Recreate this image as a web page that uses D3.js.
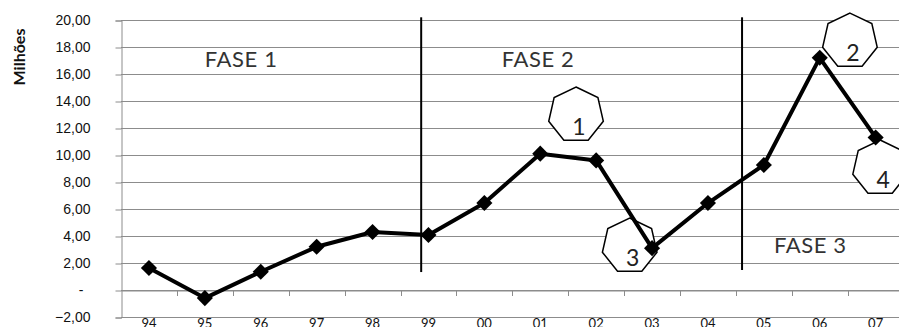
<!DOCTYPE html>
<html>
<head>
<meta charset="utf-8">
<script src="https://cdn.jsdelivr.net/npm/d3@7"></script>
<style>
  body { margin: 0; background: #fff; }
  svg { display: block; font-family: Lato, "Open Sans", sans-serif; }
</style>
</head>
<body>
<script>
// data
const years = ["94", "95", "96", "97", "98", "99", "00", "01", "02", "03", "04", "05", "06", "07"];
const values = [1.63, -0.6, 1.35, 3.2, 4.3, 4.07, 6.44, 10.1, 9.6, 3.1, 6.44, 9.26, 17.2, 11.3];
const yTicks = [-2, 0, 2, 4, 6, 8, 10, 12, 14, 16, 18, 20];

// phase boundaries (in category index units) and labels
const phaseLines = [{ at: 4.87, from: 1.33, to: 20.2 }, { at: 10.61, from: 1.48, to: 20.2 }];
const phaseLabels = [
  { text: "FASE 1", at: 1.65, v: 16.5 },
  { text: "FASE 2", at: 6.96, v: 16.5 },
  { text: "FASE 3", at: 11.83, v: 2.74 }
];
// numbered heptagon callouts
const callouts = [
  { n: "1", at: 7.64, v: 12.96 },
  { n: "2", at: 12.54, v: 18.44 },
  { n: "3", at: 8.6, v: 3.26 },
  { n: "4", at: 13.08, v: 9.04 }
];

const width = 899;
const height = 327;
const left = 121;
const band = 55.9;

const svg = d3.select("body").append("svg")
  .attr("width", width)
  .attr("height", height);

const x = d3.scaleBand()
  .domain(years)
  .range([left, left + band * years.length])
  .padding(0);

// continuous index scale for annotations
const xi = d3.scaleLinear()
  .domain([-0.5, years.length - 0.5])
  .range(x.range());

const y = d3.scaleLinear()
  .domain([-2, 20])
  .range([317, 20]);

const fmt = d => d === 0 ? "-" : d3.format(".2f")(d).replace(".", ",");

// gridlines
svg.append("g")
  .selectAll("line")
  .data(yTicks)
  .join("line")
  .attr("x1", left)
  .attr("x2", width)
  .attr("y1", d => Math.round(y(d)) + 0.5)
  .attr("y2", d => Math.round(y(d)) + 0.5)
  .attr("stroke", "#8c8c8c")
  .attr("stroke-width", 1);

// y axis
const yAxis = svg.append("g")
  .attr("transform", `translate(${left + 0.5},0.5)`)
  .call(d3.axisLeft(y).tickValues(yTicks).tickSize(6).tickPadding(25).tickFormat(fmt));
yAxis.select(".domain").attr("stroke", "#8c8c8c");
yAxis.selectAll(".tick line").attr("stroke", "#8c8c8c");
yAxis.selectAll(".tick text")
  .attr("fill", "#111")
  .style("font-size", "14px")
  .attr("dx", d => d === 0 ? "-7" : 0);

// x axis at zero
const xAxis = svg.append("g")
  .attr("transform", `translate(0,${Math.round(y(0)) + 0.5})`)
  .call(d3.axisBottom(x).tickSize(0).tickFormat(""));
xAxis.select(".domain").attr("stroke", "#8c8c8c");

// tick marks at band boundaries
svg.append("g")
  .selectAll("line")
  .data(years.slice(1))
  .join("line")
  .attr("x1", d => Math.round(x(d)) + 0.5)
  .attr("x2", d => Math.round(x(d)) + 0.5)
  .attr("y1", y(0))
  .attr("y2", y(0) + 6)
  .attr("stroke", "#8c8c8c");

// x labels (cut at the bottom edge as in the original)
svg.append("g")
  .selectAll("text")
  .data(years)
  .join("text")
  .attr("x", d => x(d) + x.bandwidth() / 2)
  .attr("y", 328)
  .attr("text-anchor", "middle")
  .attr("fill", "#111")
  .style("font-size", "13px")
  .text(d => d);

// y title
svg.append("text")
  .attr("transform", "translate(25,57) rotate(-90)")
  .attr("text-anchor", "middle")
  .attr("fill", "#111")
  .style("font-size", "16px")
  .style("font-weight", "bold")
  .text("Milhões");

// phase separators
svg.append("g")
  .selectAll("line")
  .data(phaseLines)
  .join("line")
  .attr("x1", d => xi(d.at))
  .attr("x2", d => xi(d.at))
  .attr("y1", d => y(d.to))
  .attr("y2", d => y(d.from))
  .attr("stroke", "#000")
  .attr("stroke-width", 2);

svg.append("g")
  .selectAll("text")
  .data(phaseLabels)
  .join("text")
  .attr("x", d => xi(d.at))
  .attr("y", d => y(d.v))
  .attr("text-anchor", "middle")
  .attr("fill", "#333")
  .style("font-size", "22px")
  .style("letter-spacing", "0.6px")
  .text(d => d.text);

// heptagon callouts
const R = 28;
const hept = d3.range(7).map(k => {
  const a = -Math.PI / 2 + k * 2 * Math.PI / 7;
  return [R * Math.cos(a), R * Math.sin(a)];
});

const co = svg.append("g")
  .selectAll("g")
  .data(callouts)
  .join("g")
  .attr("transform", d => `translate(${xi(d.at)},${y(d.v)})`);

co.append("path")
  .attr("d", d3.line()(hept) + "Z")
  .attr("fill", "#fff")
  .attr("stroke", "#000")
  .attr("stroke-width", 1.5);

co.append("text")
  .attr("x", 3)
  .attr("y", 20)
  .attr("text-anchor", "middle")
  .attr("fill", "#222")
  .style("font-size", "23px")
  .text(d => d.n);

// data line
const pts = years.map((d, i) => ({ year: d, value: values[i] }));

svg.append("path")
  .datum(pts)
  .attr("fill", "none")
  .attr("stroke", "#000")
  .attr("stroke-width", 4)
  .attr("stroke-linejoin", "round")
  .attr("d", d3.line()
    .x(d => x(d.year) + x.bandwidth() / 2)
    .y(d => y(d.value)));

svg.append("g")
  .selectAll("path")
  .data(pts)
  .join("path")
  .attr("transform", d => `translate(${x(d.year) + x.bandwidth() / 2},${y(d.value)}) rotate(45)`)
  .attr("d", d3.symbol(d3.symbolSquare, 130)())
  .attr("fill", "#000");
</script>
</body>
</html>
